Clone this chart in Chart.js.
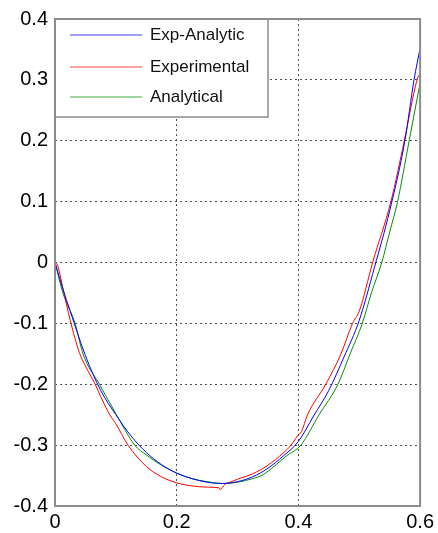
<!DOCTYPE html>
<html>
<head>
<meta charset="utf-8">
<script src="https://cdn.jsdelivr.net/npm/chart.js@4/dist/chart.umd.min.js"></script>
<style>
html,body{margin:0;padding:0;background:#fff;}
#wrap{width:438px;height:533px;}
</style>
</head>
<body>
<div id="wrap"><canvas id="c" width="438" height="533"></canvas></div>
<script>
const seriesNames = ["Exp-Analytic", "Experimental", "Analytical"];
const seriesColors = ["#0000ff", "#ff0000", "#009000"];

const expAnalyticX = [0, 0.0125, 0.025, 0.05, 0.075, 0.1, 0.125, 0.15, 0.175, 0.2, 0.225, 0.25, 0.275, 0.3, 0.325, 0.35, 0.375, 0.4, 0.425, 0.45, 0.475, 0.5, 0.525, 0.55, 0.575, 0.59, 0.6];
const expAnalyticY = [0, -0.042, -0.08, -0.153, -0.21, -0.25, -0.285, -0.312, -0.332, -0.346, -0.355, -0.361, -0.363, -0.36, -0.352, -0.338, -0.318, -0.294, -0.252, -0.21, -0.155, -0.095, -0.008, 0.085, 0.2, 0.3, 0.352];

const experimentalX = [0, 0.004, 0.0125, 0.025, 0.04, 0.05, 0.066, 0.075, 0.09, 0.1, 0.12, 0.15, 0.175, 0.2, 0.225, 0.25, 0.269, 0.271, 0.28, 0.29, 0.3, 0.325, 0.35, 0.375, 0.388, 0.4, 0.405, 0.415, 0.445, 0.47, 0.489, 0.5, 0.522, 0.552, 0.574, 0.595, 0.6];
const experimentalY = [0, -0.004, -0.04, -0.095, -0.148, -0.17, -0.2, -0.22, -0.25, -0.265, -0.3, -0.335, -0.352, -0.362, -0.367, -0.369, -0.37, -0.373, -0.364, -0.36, -0.356, -0.347, -0.333, -0.313, -0.3, -0.283, -0.278, -0.25, -0.2, -0.15, -0.1, -0.08, 0, 0.1, 0.2, 0.3, 0.311];

const analyticalX = [0, 0.013, 0.033, 0.046, 0.073, 0.101, 0.131, 0.15, 0.175, 0.2, 0.225, 0.25, 0.275, 0.3, 0.325, 0.341, 0.36, 0.38, 0.404, 0.434, 0.465, 0.485, 0.505, 0.52, 0.537, 0.55, 0.563, 0.582, 0.6];
const analyticalY = [0, -0.05, -0.1, -0.15, -0.2, -0.25, -0.3, -0.316, -0.333, -0.346, -0.355, -0.36, -0.363, -0.361, -0.355, -0.349, -0.335, -0.318, -0.3, -0.25, -0.2, -0.15, -0.1, -0.05, 0, 0.05, 0.1, 0.2, 0.295];

const xTicks = [0, 0.2, 0.4, 0.6];
const yTicks = [-0.4, -0.3, -0.2, -0.1, 0, 0.1, 0.2, 0.3, 0.4];

function pts(xs, ys){ return xs.map((x,i)=>({x:x, y:ys[i]})); }

const FONT = "'Liberation Sans', Arial, sans-serif";

const boxPlugin = {
  id: 'box',
  afterDatasetsDraw(chart){
    const {ctx, chartArea:a} = chart;
    ctx.save();
    const lx = a.left, ly = a.top, lw = 213, lh = 98;
    ctx.fillStyle = '#fff';
    ctx.fillRect(lx, ly, lw, lh);
    ctx.strokeStyle = '#8c8c8c';
    ctx.lineWidth = 1.5;
    ctx.strokeRect(lx, ly, lw, lh);
    const rows = [35, 67, 97];
    ctx.font = "17px " + FONT;
    ctx.textBaseline = 'middle';
    ctx.textAlign = 'left';
    chart.data.datasets.forEach((ds, i) => {
      ctx.strokeStyle = ds.borderColor;
      ctx.globalAlpha = 0.5;
      ctx.lineWidth = 1.5;
      ctx.beginPath();
      ctx.moveTo(70, rows[i]);
      ctx.lineTo(142, rows[i]);
      ctx.stroke();
      ctx.globalAlpha = 1;
      ctx.fillStyle = '#111';
      ctx.fillText(ds.label, 150, rows[i]);
    });
    ctx.strokeStyle = '#8c8c8c';
    ctx.lineWidth = 2;
    ctx.strokeRect(a.left, a.top, a.right - a.left, a.bottom - a.top);
    ctx.restore();
  }
};

const edgeColor = () => (ctx) => {
  const v = ctx.tick ? ctx.tick.value : null;
  const s = ctx.scale;
  if (v === null) return 'rgba(0,0,0,0)';
  if (Math.abs(v - s.min) < 1e-9 || Math.abs(v - s.max) < 1e-9) return 'rgba(0,0,0,0)';
  return '#505050';
};

new Chart(document.getElementById('c'), {
  type: 'line',
  data: {
    datasets: [
      {label: seriesNames[0], data: pts(expAnalyticX, expAnalyticY), borderColor: seriesColors[0]},
      {label: seriesNames[1], data: pts(experimentalX, experimentalY), borderColor: seriesColors[1]},
      {label: seriesNames[2], data: pts(analyticalX, analyticalY), borderColor: seriesColors[2]}
    ].map(d => Object.assign(d, {borderWidth: 1, pointRadius: 0, tension: 0.2, cubicInterpolationMode: 'monotone', fill: false}))
  },
  options: {
    responsive: false,
    animation: false,
    layout: {padding: {top: 19, right: 17, left: 0, bottom: 0}},
    plugins: {legend: {display: false}, tooltip: {enabled: false}},
    scales: {
      x: {
        type: 'linear', min: 0, max: 0.6,
        afterBuildTicks: (s) => { s.ticks = xTicks.map(v => ({value: v})); },
        afterFit: (s) => { s.height = 27; },
        ticks: {color: '#000', font: {family: FONT, size: 20}, padding: 4, maxRotation: 0,
                callback: (v) => String(+v.toFixed(1))},
        grid: {color: edgeColor(), lineWidth: 1, drawTicks: false},
        border: {display: false, dash: [2, 3]}
      },
      y: {
        type: 'linear', min: -0.4, max: 0.4,
        afterBuildTicks: (s) => { s.ticks = yTicks.map(v => ({value: v})); },
        afterFit: (s) => { s.width = 55; },
        ticks: {color: '#000', font: {family: FONT, size: 20}, padding: 7,
                callback: (v) => String(+v.toFixed(1))},
        grid: {color: edgeColor(), lineWidth: 1, drawTicks: false},
        border: {display: false, dash: [2, 3]}
      }
    }
  },
  plugins: [boxPlugin]
});
</script>
</body>
</html>
